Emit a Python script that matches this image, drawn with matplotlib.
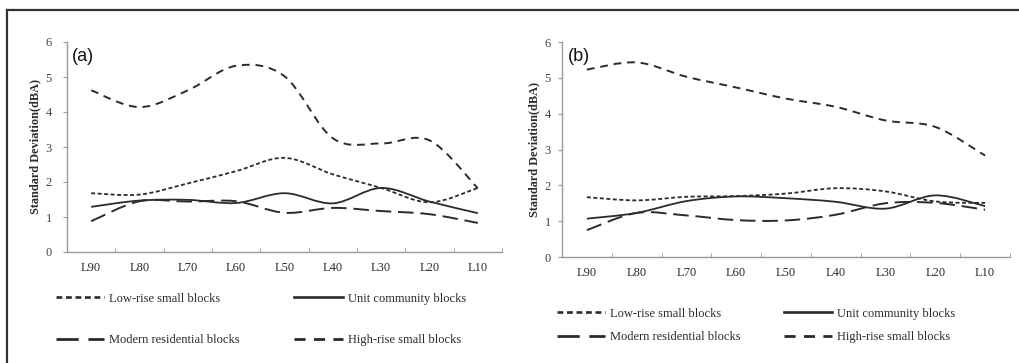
import numpy as np
import matplotlib
matplotlib.use('Agg')
import matplotlib.pyplot as plt
from matplotlib.path import Path
from matplotlib.patches import PathPatch
from matplotlib.lines import Line2D

# categories (x axis)
levels = ['L90', 'L80', 'L70', 'L60', 'L50', 'L40', 'L30', 'L20', 'L10']

# (a)
low_a = [1.68, 1.64, 1.96, 2.31, 2.69, 2.22, 1.83, 1.42, 1.83]
unit_a = [1.29, 1.47, 1.49, 1.40, 1.68, 1.39, 1.83, 1.44, 1.11]
modern_a = [0.88, 1.45, 1.44, 1.45, 1.12, 1.26, 1.17, 1.08, 0.83]
high_a = [4.62, 4.14, 4.62, 5.32, 5.02, 3.25, 3.10, 3.19, 1.82]

# (b)
low_b = [1.67, 1.58, 1.68, 1.70, 1.77, 1.92, 1.83, 1.55, 1.51]
unit_b = [1.07, 1.23, 1.56, 1.69, 1.64, 1.54, 1.35, 1.72, 1.42]
modern_b = [0.75, 1.23, 1.16, 1.03, 1.02, 1.18, 1.50, 1.51, 1.32]
high_b = [5.23, 5.43, 5.03, 4.73, 4.42, 4.19, 3.81, 3.63, 2.83]

names = ['Low-rise small blocks', 'Unit community blocks',
         'Modern residential blocks', 'High-rise small blocks']

ink = '#2b2b2b'
styles = [dict(ls=(0, (2.2, 1.4)), lw=1.3),
          dict(ls='-', lw=1.3),
          dict(ls=(0, (8, 3.5)), lw=1.4),
          dict(ls=(0, (4, 3)), lw=1.4)]

serif = 'Liberation Serif'


def smooth_path(y):
    # excel-like smoothed line: catmull-rom turned into cubic bezier
    x = np.arange(len(y), dtype=float)
    p = np.column_stack([x, np.asarray(y, float)])
    verts = [p[0]]
    codes = [Path.MOVETO]
    for i in range(len(p) - 1):
        p0 = p[max(i - 1, 0)]
        p1 = p[i]
        p2 = p[i + 1]
        p3 = p[min(i + 2, len(p) - 1)]
        c1 = p1 + (p2 - p0) / 6.0
        c2 = p2 - (p3 - p1) / 6.0
        verts += [c1, c2, p2]
        codes += [Path.CURVE4] * 3
    return Path(verts, codes)


def panel(ax, series, tag, ypad):
    for vals, st in zip(series, styles):
        ax.add_patch(PathPatch(smooth_path(vals), fill=False, edgecolor=ink,
                               linestyle=st['ls'], linewidth=st['lw'],
                               capstyle='butt'))
    ax.set_xlim(-0.5, len(levels) - 0.5)
    ax.set_ylim(0, 6)
    ax.set_yticks(range(7))
    ax.set_xticks(np.arange(len(levels)))
    ax.set_xticklabels(levels, fontfamily=serif, fontsize=9, color=ink)
    ax.set_xticks(np.arange(len(levels) + 1) - 0.5, minor=True)
    ax.tick_params(axis='x', which='major', length=0, pad=7)
    ax.tick_params(axis='x', which='minor', length=3, direction='in', color='#999999')
    ax.tick_params(axis='y', length=3, direction='out', color='#999999', pad=ypad,
                   labelsize=9)
    for t in ax.get_yticklabels():
        t.set_fontfamily(serif)
        t.set_color('#444444')
    for s in ['top', 'right']:
        ax.spines[s].set_visible(False)
    for s in ['left', 'bottom']:
        ax.spines[s].set_color('#999999')
        ax.spines[s].set_linewidth(1.0)
    ax.set_ylabel('Standard Deviation(dBA)', fontfamily=serif, fontweight='bold',
                  fontsize=8.8, color=ink, labelpad=3)
    ax.text(0.012, 0.97, tag, transform=ax.transAxes, fontfamily='Liberation Sans',
            fontsize=13, va='top', ha='left', color='#111111')


fig = plt.figure(figsize=(10.2, 3.63), dpi=100)
ax1 = fig.add_axes([67 / 1020, 1 - 252 / 363, 435 / 1020, 210 / 363])
ax2 = fig.add_axes([562 / 1020, 1 - 257 / 363, 448 / 1020, 215 / 363])

panel(ax1, [low_a, unit_a, modern_a, high_a], '(a)', 8)
panel(ax2, [low_b, unit_b, modern_b, high_b], '(b)', 5)

handles = [Line2D([], [], color=ink, linestyle=st['ls'], linewidth=st['lw'] + 0.6)
           for st in styles]
# legend fills column by column: reorder so rows read Low-rise/Unit, Modern/High-rise
order = [0, 2, 1, 3]
h_ord = [handles[i] for i in order]
n_ord = [names[i] for i in order]

leg1 = ax1.legend(h_ord, n_ord, ncol=2, loc='upper left',
                  bbox_to_anchor=(-0.052, -0.14), frameon=False,
                  prop={'family': serif, 'size': 9}, handlelength=3.9,
                  handletextpad=0.4, columnspacing=4.3, labelspacing=2.35)
leg2 = ax2.legend(h_ord, n_ord, ncol=2, loc='upper left',
                  bbox_to_anchor=(-0.037, -0.183), frameon=False,
                  prop={'family': serif, 'size': 9}, handlelength=3.9,
                  handletextpad=0.4, columnspacing=3.4, labelspacing=0.95)
for leg in (leg1, leg2):
    for t in leg.get_texts():
        t.set_color(ink)

# outer frame (top and left edges visible)
fig.add_artist(Line2D([7 / 1020, 7 / 1020], [0, 1 - 10 / 363], color='#333333',
                      lw=1.6, transform=fig.transFigure))
fig.add_artist(Line2D([7 / 1020, 1], [1 - 10 / 363, 1 - 10 / 363], color='#333333',
                      lw=1.6, transform=fig.transFigure))

fig.savefig('out.png', dpi=100)
